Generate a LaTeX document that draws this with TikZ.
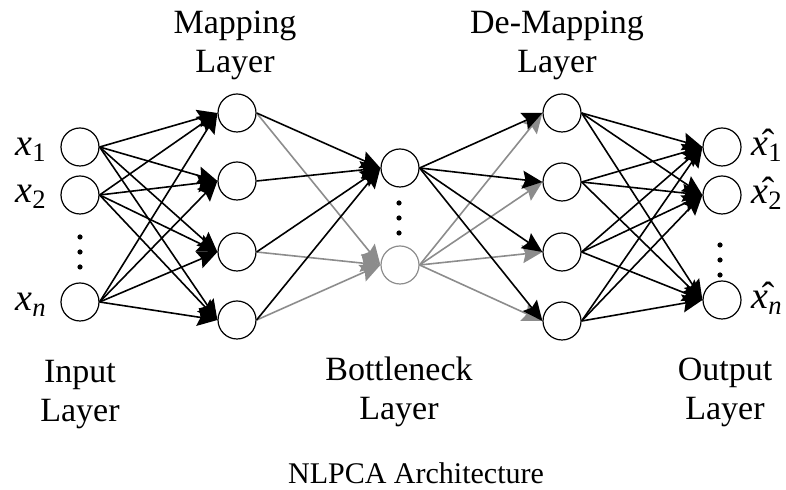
\documentclass[tikz,border=0pt]{standalone}
\usepackage{fontspec}
\setmainfont{Liberation Serif}
\usetikzlibrary{arrows.meta}
\tikzset{every edge/.style={draw, line width=0.8pt},
  >={Stealth[length=10pt, width=9pt, inset=1.5pt]},
  unit/.style={draw, circle, minimum size=19pt, inner sep=0pt, line width=0.6pt},
  faint/.style={draw=black!45},
  layername/.style={align=center, inner sep=0pt, anchor=base, font=\fontsize{17}{19.5}\selectfont},
  var/.style={inner sep=0pt, anchor=base west, font=\fontsize{19}{21}\selectfont}}

\begin{document}
\begin{tikzpicture}[x=0.5pt, y=-0.5pt]
  \useasboundingbox (0, 0) rectangle (786, 490);

  \node[unit] at (80, 147) (in1) {};
  \node[unit] at (80, 195) (in2) {};
  \node[unit] at (80, 302) (in3) {};

  \foreach \i/\y in {1/113, 2/181, 3/252, 4/320}
    \node[unit] at (237, \y) (map\i) {};

  \node[unit] at (400, 168) (bot1) {};
  \node[unit, draw=black!45] at (400, 265) (bot2) {};

  \foreach \i/\y in {1/113, 2/182, 3/252, 4/321}
    \node[unit] at (562, \y) (dem\i) {};

  \node[unit] at (722, 147) (out1) {};
  \node[unit] at (722, 195) (out2) {};
  \node[unit] at (722, 300) (out3) {};

  \foreach \a in {1, 2, 3}
    \foreach \b in {1, ..., 4}
      \draw (in\a.east) edge[->] (map\b.west);

  \foreach \a in {1, 3, 4}
    \draw (map\a.east) edge[->, faint] (bot2.west);
  \foreach \a in {1, ..., 4}
    \draw (map\a.east) edge[->] (bot1.west);

  \foreach \b in {1, ..., 4}
    \draw (bot2.east) edge[->, faint] (dem\b.west);
  \foreach \b in {1, ..., 4}
    \draw (bot1.east) edge[->] (dem\b.west);

  \foreach \a in {1, ..., 4}
    \foreach \b in {1, 2, 3}
      \draw (dem\a.east) edge[->] (out\b.west);

  \foreach \x/\y in {80/237, 399/203, 720/245}
    \foreach \d in {0, 15, 30}
      \fill (\x, \y+\d) circle (1.3pt);

  \node[var] at (15, 156) (x1) {\textit{x}\textsubscript{1}};
  \node[var] at (15, 203) (x2) {\textit{x}\textsubscript{2}};
  \node[var] at (15, 311) (xn) {\textit{x}\textsubscript{\textit{n}}};

  \node[var] at (751, 156) (y1) {\^{\textit{x}}\textsubscript{1}};
  \node[var] at (751, 204) (y2) {\^{\textit{x}}\textsubscript{2}};
  \node[var] at (751, 309) (yn) {\^{\textit{x}}\textsubscript{\textit{n}}};

  \node[layername] at (235, 73) (maplabel) {Mapping\\Layer};
  \node[layername] at (557, 73) (demlabel) {De-Mapping\\Layer};
  \node[layername] at (80, 422) (inlabel) {Input\\Layer};
  \node[layername] at (399, 420) (botlabel) {Bottleneck\\Layer};
  \node[layername] at (725, 420) (outlabel) {Output\\Layer};
  \node[layername, font=\fontsize{15}{18}\selectfont] at (416, 484) (title) {NLPCA Architecture};
\end{tikzpicture}
\end{document}
